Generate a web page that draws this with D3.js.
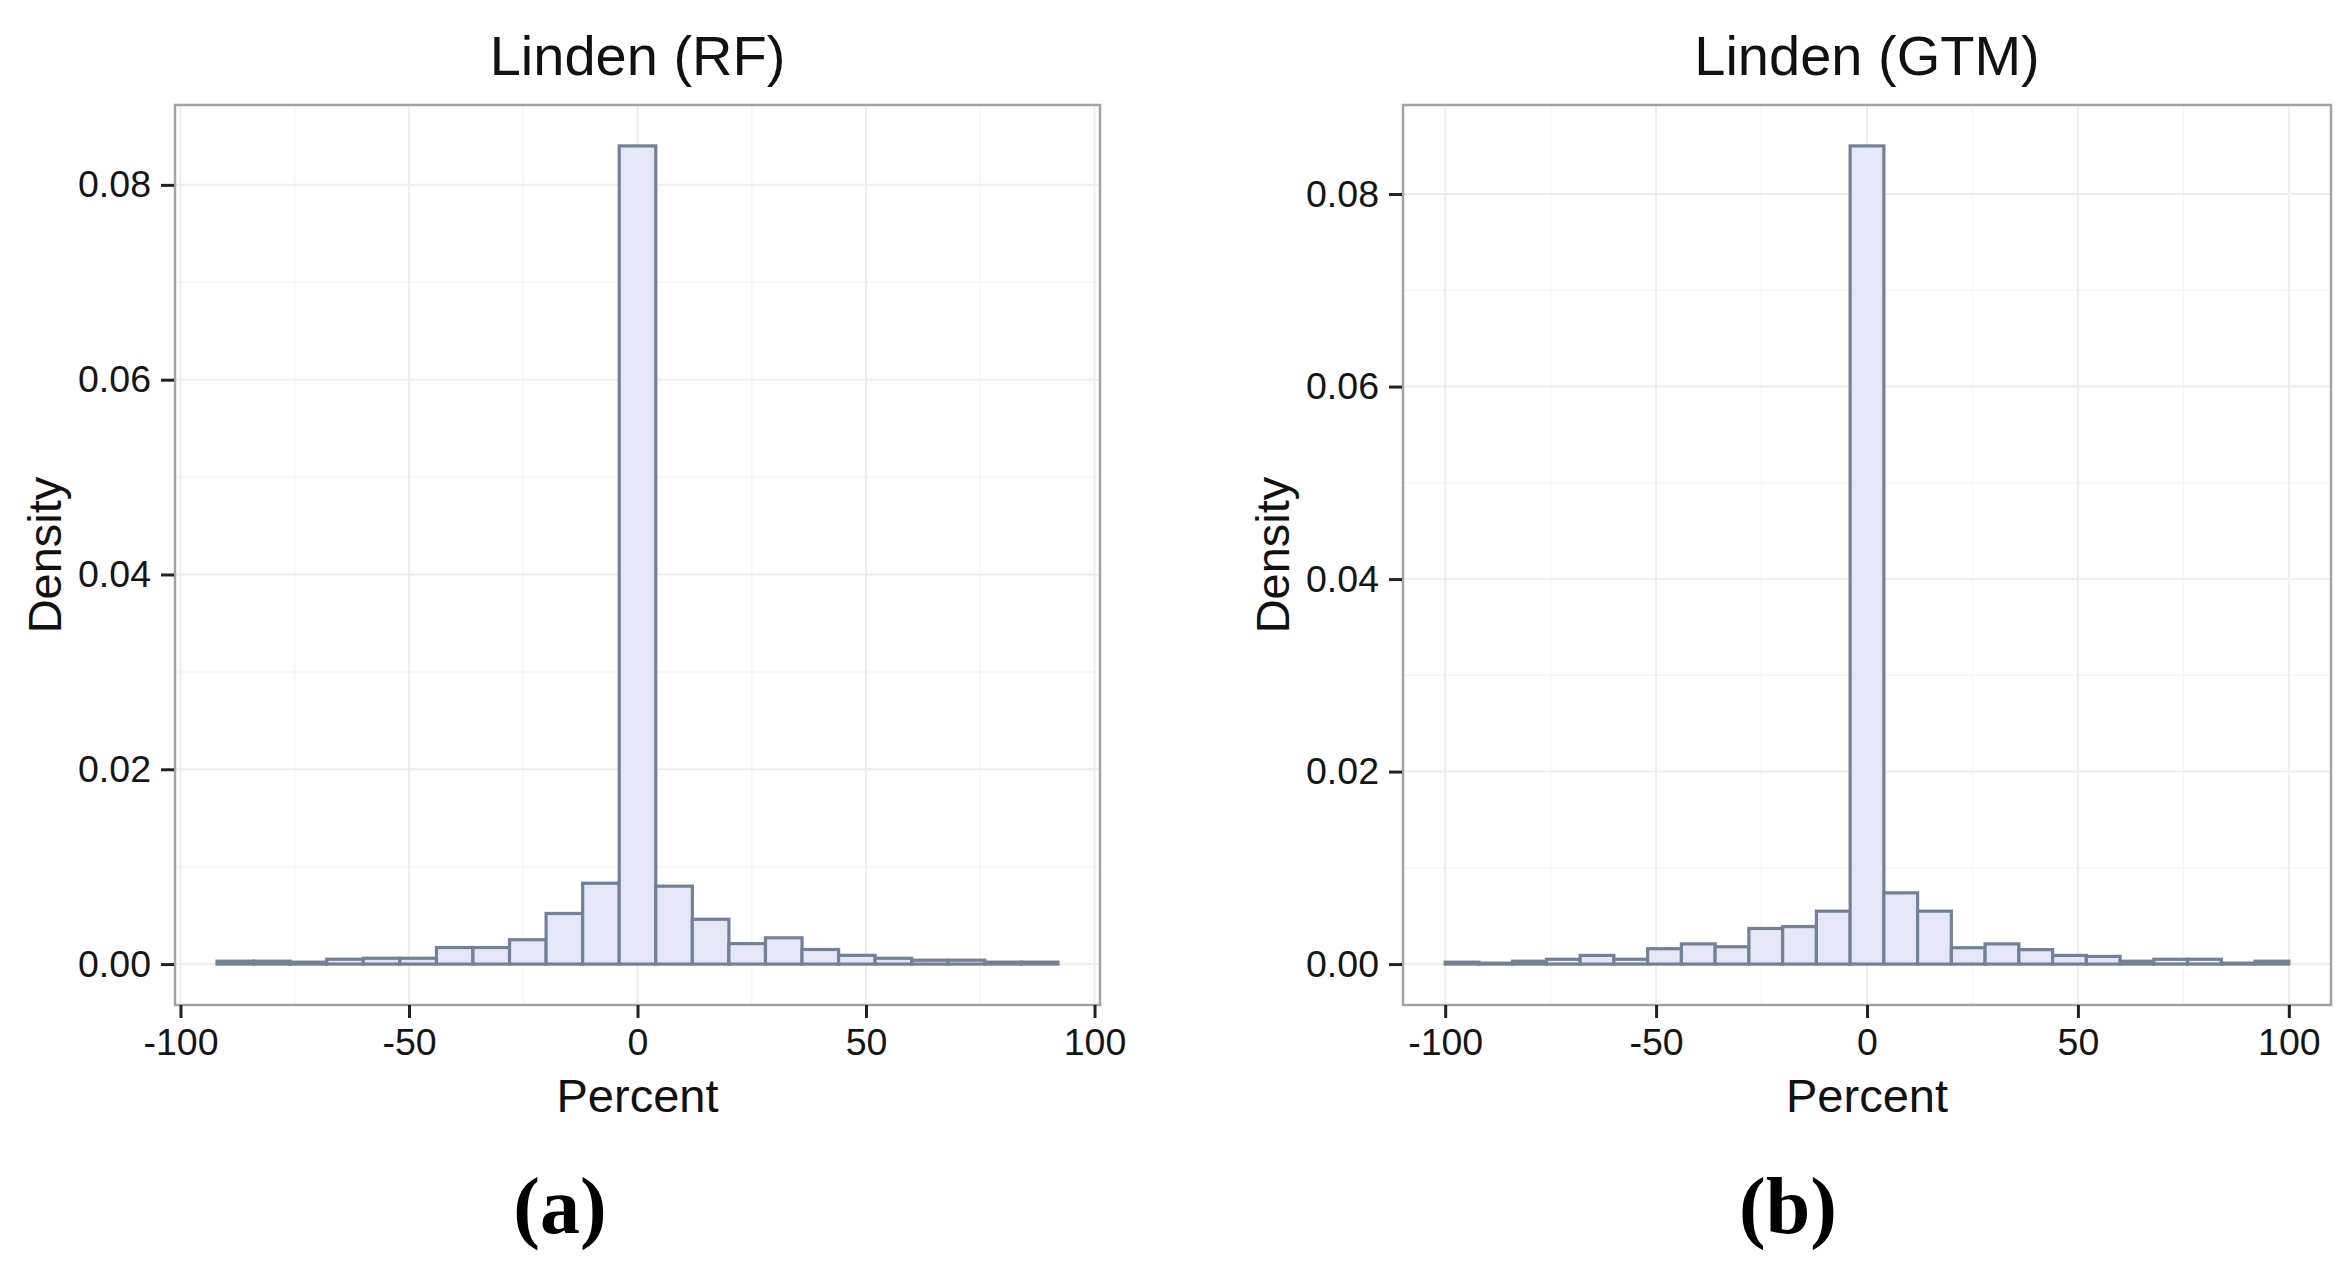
<!DOCTYPE html>
<html>
<head>
<meta charset="utf-8">
<script src="https://cdn.jsdelivr.net/npm/d3@7"></script>
<style>
  html, body { margin: 0; padding: 0; background: #fff; }
  svg { display: block; }
</style>
</head>
<body>
<svg id="chart" width="2347" height="1265"></svg>
<script>
// ---- data ----
const binWidth = 8;
const centersA = [-88,-80,-72,-64,-56,-48,-40,-32,-24,-16,-8,0,8,16,24,32,40,48,56,64,72,80,88];
const densityA = [0.0003,0.0003,0.0002,0.0005,0.0006,0.0006,0.0017,0.0017,0.0025,0.0052,0.0083,0.084,0.0080,0.0046,0.0021,0.0027,0.0015,0.0009,0.0006,0.0004,0.0004,0.0002,0.0002];
const centersB = [-96,-88,-80,-72,-64,-56,-48,-40,-32,-24,-16,-8,0,8,16,24,32,40,48,56,64,72,80,88,96];
const densityB = [0.0002,0.0001,0.0003,0.0005,0.0009,0.0005,0.0016,0.0021,0.0018,0.0037,0.0039,0.0055,0.085,0.0074,0.0055,0.0017,0.0021,0.0015,0.0009,0.0008,0.0003,0.0005,0.0005,0.0001,0.0003];
const xTicks = [-100,-50,0,50,100];
const xMinor = [-75,-25,25,75];
const yTicks = [0,0.02,0.04,0.06,0.08];
const yMinor = [0.01,0.03,0.05,0.07];
const titles = ["Linden (RF)", "Linden (GTM)"];
const subLabels = ["(a)", "(b)"];
const xTitle = "Percent";
const yTitle = "Density";

const SANS = "'Liberation Sans', Arial, sans-serif";
const SERIF = "'Liberation Serif', 'Times New Roman', serif";

const svg = d3.select("#chart");
const panels = [
  {centers: centersA, dens: densityA, title: titles[0], sub: subLabels[0], left: 175, right: 1100, subX: 560, yTitleX: 45},
  {centers: centersB, dens: densityB, title: titles[1], sub: subLabels[1], left: 1403, right: 2331, subX: 1788, yTitleX: 1273}
];
const pTop = 105, pBottom = 1005;

panels.forEach(p => {
  const lo = d3.min(p.centers) - binWidth/2, hi = d3.max(p.centers) + binWidth/2;
  const xr = hi - lo;
  const x = d3.scaleLinear().domain([lo - 0.05*xr, hi + 0.05*xr]).range([p.left, p.right]);
  const ymax = d3.max(p.dens);
  const y = d3.scaleLinear().domain([-0.05*ymax, ymax*1.05]).range([pBottom, pTop]);
  const g = svg.append("g");

  g.append("rect").attr("x", p.left).attr("y", pTop).attr("width", p.right-p.left).attr("height", pBottom-pTop).attr("fill", "#fff");
  g.selectAll(".mx").data(xMinor).join("line")
    .attr("x1", d=>x(d)).attr("x2", d=>x(d)).attr("y1", pTop).attr("y2", pBottom)
    .attr("stroke", "#f6f6f6").attr("stroke-width", 1.5);
  g.selectAll(".my").data(yMinor).join("line")
    .attr("y1", d=>y(d)).attr("y2", d=>y(d)).attr("x1", p.left).attr("x2", p.right)
    .attr("stroke", "#f6f6f6").attr("stroke-width", 1.5);
  g.selectAll(".gx").data(xTicks).join("line")
    .attr("x1", d=>x(d)).attr("x2", d=>x(d)).attr("y1", pTop).attr("y2", pBottom)
    .attr("stroke", "#eeeeee").attr("stroke-width", 2);
  g.selectAll(".gy").data(yTicks).join("line")
    .attr("y1", d=>y(d)).attr("y2", d=>y(d)).attr("x1", p.left).attr("x2", p.right)
    .attr("stroke", "#eeeeee").attr("stroke-width", 2);

  g.selectAll(".bar").data(p.centers.map((c,i)=>({c, d: p.dens[i]}))).join("rect")
    .attr("x", d=>x(d.c - binWidth/2))
    .attr("width", d=>x(d.c + binWidth/2) - x(d.c - binWidth/2))
    .attr("y", d=>y(d.d))
    .attr("height", d=>y(0) - y(d.d))
    .attr("fill", "#e5e7f8")
    .attr("stroke", "#718296")
    .attr("stroke-width", 3.2);

  g.append("rect").attr("x", p.left).attr("y", pTop).attr("width", p.right-p.left).attr("height", pBottom-pTop)
    .attr("fill", "none").attr("stroke", "#a3a3a3").attr("stroke-width", 2.5);

  const xa = g.append("g").attr("transform", `translate(0,${pBottom})`)
    .call(d3.axisBottom(x).tickValues(xTicks).tickSize(13).tickPadding(10).tickFormat(d => String(d)));
  xa.select(".domain").remove();
  xa.selectAll("line").attr("stroke", "#222").attr("stroke-width", 3);
  xa.selectAll("text").style("font-size", "37.5px").style("font-family", SANS).attr("fill", "#151515");

  const ya = g.append("g").attr("transform", `translate(${p.left - 1},0)`)
    .call(d3.axisLeft(y).tickValues(yTicks).tickSize(13).tickPadding(10).tickFormat(d3.format(".2f")));
  ya.select(".domain").remove();
  ya.selectAll("line").attr("stroke", "#222").attr("stroke-width", 3);
  ya.selectAll("text").style("font-size", "37.5px").style("font-family", SANS).attr("fill", "#151515");

  g.append("text").attr("x", (p.left+p.right)/2).attr("y", 75).attr("text-anchor", "middle")
    .style("font-family", SANS).style("font-size", "56px").attr("fill", "#111").text(p.title);
  g.append("text").attr("x", (p.left+p.right)/2).attr("y", 1112).attr("text-anchor", "middle")
    .style("font-family", SANS).style("font-size", "47px").attr("fill", "#111").text(xTitle);
  g.append("text").attr("transform", `translate(${p.yTitleX + 16},${(pTop+pBottom)/2}) rotate(-90)`)
    .attr("text-anchor", "middle").style("font-family", SANS).style("font-size", "47px").attr("fill", "#111").text(yTitle);
  g.append("text").attr("x", p.subX).attr("y", 1233).attr("text-anchor", "middle")
    .style("font-family", SERIF).style("font-weight", "bold")
    .style("font-size", "80px").attr("fill", "#000").text(p.sub);
});
</script>
</body>
</html>
